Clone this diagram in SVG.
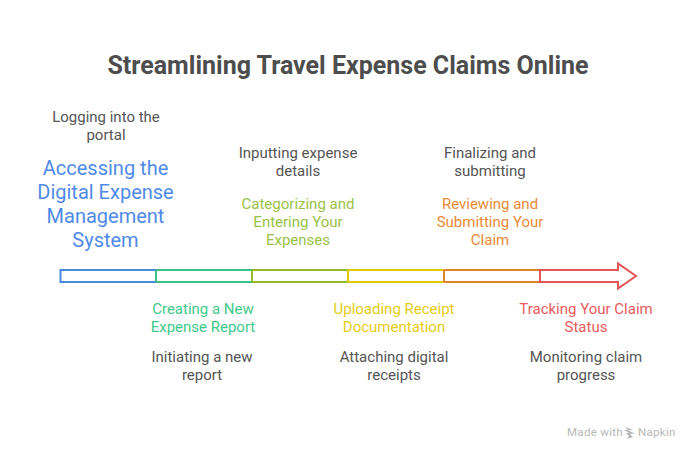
<svg xmlns="http://www.w3.org/2000/svg" width="696" height="456" viewBox="0 0 696 456">
<style>
text{font-family:Roboto,"Liberation Sans",sans-serif;text-anchor:middle}
.t{font-size:25px;font-weight:700;fill:#4d4d4d}
.d{font-size:15px;fill:#555}
.h{font-size:15px;font-weight:400}
.b{font-size:20px;fill:#4f8ae8}
.m{font-size:11.500px;letter-spacing:.3px;fill:#b8b8b8;text-anchor:start}
.s{fill:none;stroke-width:2}
</style>
<rect width="696" height="456" fill="#fff"/>
<text id="title" class="t" x="348" y="74">Streamlining Travel Expense Claims Online</text>
<g id="connectors">
<path class="s" stroke="#4a89e0" d="M156 270H60.500V282H156"/>
<path class="s" stroke="#3dbf84" d="M156 270H252M156 282H252M156 270V282"/>
<path class="s" stroke="#94b933" d="M252 270H348M252 282H348M252 270V282"/>
<path class="s" stroke="#e0c909" d="M348 270H444M348 282H444M348 270V282"/>
<path class="s" stroke="#e0832f" d="M444 270H540M444 282H540M444 270V282"/>
<path class="s" stroke="#e45656" d="M540 270V282H618V288.500L636 276L618 263.500V270Z"/>
</g>
<g id="node1"><text class="d" x="106" y="122">Logging into the</text><text class="d" x="106" y="140">portal</text>
<text class="b" x="105.500" y="175">Accessing the</text><text class="b" x="105.500" y="199">Digital Expense</text><text class="b" x="105.500" y="223">Management</text><text class="b" x="105.500" y="247">System</text></g>
<g id="node2"><text class="h" x="203" y="314" fill="#3fc98b">Creating a New</text><text class="h" x="203" y="332" fill="#3fc98b">Expense Report</text><text class="d" x="202" y="362">Initiating a new</text><text class="d" x="202" y="380">report</text></g>
<g id="node3"><text class="d" x="298" y="158">Inputting expense</text><text class="d" x="298" y="176">details</text><text class="h" x="298" y="209" fill="#9ac244">Categorizing and</text><text class="h" x="298" y="227" fill="#9ac244">Entering Your</text><text class="h" x="298" y="245" fill="#9ac244">Expenses</text></g>
<g id="node4"><text class="h" x="394" y="314" fill="#e3cc14">Uploading Receipt</text><text class="h" x="394" y="332" fill="#e3cc14">Documentation</text><text class="d" x="394" y="362">Attaching digital</text><text class="d" x="394" y="380">receipts</text></g>
<g id="node5"><text class="d" x="490" y="158">Finalizing and</text><text class="d" x="490" y="176">submitting</text><text class="h" x="490" y="209" fill="#e98a34">Reviewing and</text><text class="h" x="490" y="227" fill="#e98a34">Submitting Your</text><text class="h" x="490" y="245" fill="#e98a34">Claim</text></g>
<g id="node6"><text class="h" x="586" y="314" fill="#ea5a5a">Tracking Your Claim</text><text class="h" x="586" y="332" fill="#ea5a5a">Status</text><text class="d" x="586" y="362">Monitoring claim</text><text class="d" x="586" y="380">progress</text></g>
<g id="watermark"><text class="m" x="567" y="436">Made with</text>
<path d="M625 426.500l8 3.500-5 .5 7 3-5 .5 3 3-6 2 2-3.500-4-2 4-.5-5-3 4-.5z" fill="#b8b8b8"/>
<text class="m" x="638" y="436">Napkin</text></g>
</svg>
